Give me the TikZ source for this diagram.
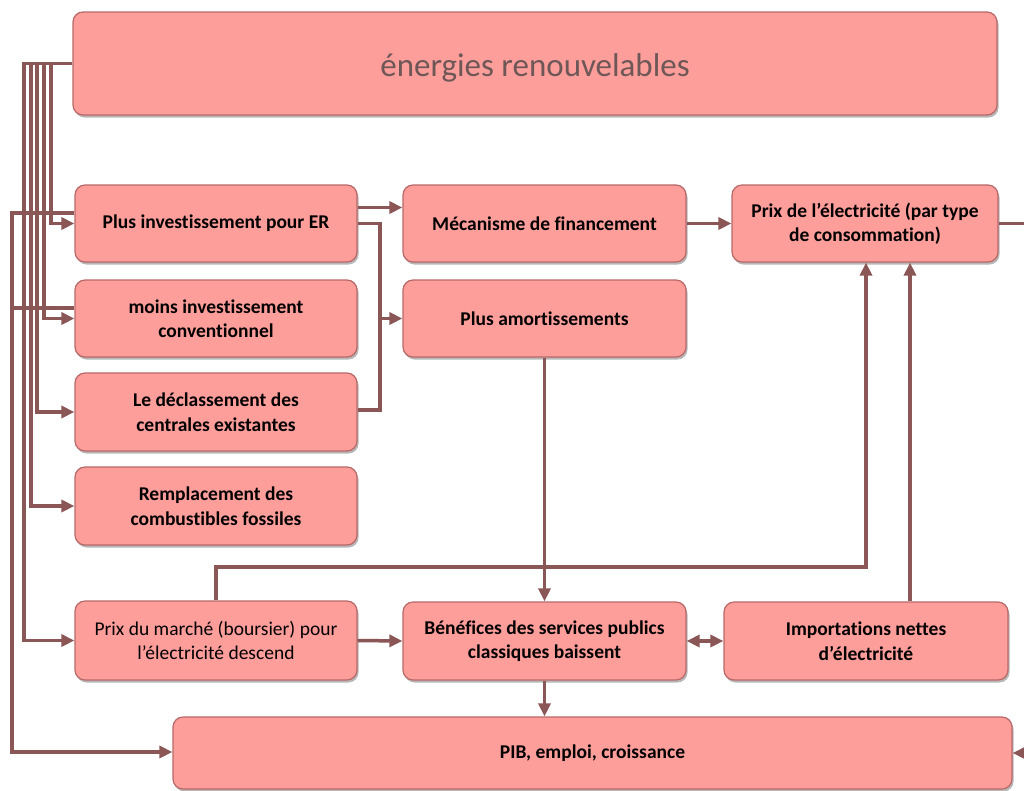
\documentclass[tikz,border=0pt]{standalone}
\usepackage{fontspec}
\setmainfont{Carlito}[Ligatures={NoCommon}]
\usetikzlibrary{arrows.meta,shadows}
\definecolor{boxfill}{HTML}{FE9E9B}
\definecolor{boxedge}{HTML}{B86868}
\definecolor{linec}{HTML}{8B5656}
\definecolor{toptext}{HTML}{6E5757}
\tikzset{
  box/.style={rectangle, rounded corners=10pt, fill=boxfill, draw=boxedge, line width=1.2pt,
    align=center, inner sep=0pt, font=\bfseries\fontsize{19.5}{24.5}\selectfont,
    drop shadow={shadow xshift=1.5pt, shadow yshift=-2.5pt, opacity=0.4, fill=black!70}},
  conn/.style={draw=linec, line width=3.5pt},
  arr/.style={conn, -{Triangle[length=13pt,width=12pt]}},
  darr/.style={conn, {Triangle[length=13pt,width=12pt]}-{Triangle[length=13pt,width=12pt]}},
}
\begin{document}
\begin{tikzpicture}[x=1pt,y=-1pt]
\useasboundingbox[fill=white] (0,0) rectangle (1024,790);
% nodes
\node[box, minimum width=924pt, minimum height=103pt, font=\fontsize{33}{38}\selectfont, text=toptext] (top) at (535,63.5) {\raisebox{-12.5pt}[0pt][0pt]{énergies renouvelables}};
\node[box, minimum width=282pt, minimum height=77pt] (plusinv) at (216,223.5) {Plus investissement pour ER};
\node[box, minimum width=282pt, minimum height=77pt] (moins) at (216,318.5) {moins investissement\\conventionnel};
\node[box, minimum width=282pt, minimum height=78pt] (decl) at (216,412) {Le déclassement des\\centrales existantes};
\node[box, minimum width=282pt, minimum height=78pt] (rempl) at (216,506) {Remplacement des\\combustibles fossiles};
\node[box, minimum width=282pt, minimum height=79pt, font=\fontsize{19.5}{24.5}\selectfont] (marche) at (216,640.5) {Prix du marché (boursier) pour\\l'électricité descend};
\node[box, minimum width=283pt, minimum height=77pt] (meca) at (544.5,223.5) {Mécanisme de financement};
\node[box, minimum width=283pt, minimum height=77pt] (amort) at (544.5,318.5) {Plus amortissements};
\node[box, minimum width=266pt, minimum height=77pt] (prix) at (865,223.5) {Prix de l'électricité (par type\\de consommation)};
\node[box, minimum width=283pt, minimum height=78pt] (benef) at (544.5,641) {Bénéfices des services publics\\classiques baissent};
\node[box, minimum width=284pt, minimum height=78pt] (import) at (866,641) {Importations nettes\\d'électricité};
\node[box, minimum width=839pt, minimum height=72pt] (pib) at (592.5,753) {PIB, emploi, croissance};
% helper coordinates
\coordinate (b1) at (51,0);
\coordinate (b2) at (44,0);
\coordinate (b3) at (37,0);
\coordinate (b4) at (31,0);
\coordinate (b5) at (24,0);
\coordinate (L) at (12,752);
\coordinate (j1) at (380,318.5);
\coordinate (k) at (866,567);
\coordinate (m) at (910,0);
% bundle from top box
\draw[arr] (top.west) -| (b1 |- plusinv.west) -- (plusinv.west);
\draw[arr] (top.west) -| (b2 |- moins.west) -- (moins.west);
\draw[arr] (top.west) -| (b3 |- decl.west) -- (decl.west);
\draw[arr] (top.west) -| (b4 |- rempl.west) -- (rempl.west);
\draw[arr] (top.west) -| (b5 |- marche.west) -- (marche.west);
% to PIB on the far left
\draw[arr] ([yshift=10.5pt]plusinv.west) -| (L) -- (L -| pib.west);
\draw[conn] ([yshift=10.5pt]moins.west) -| (L);
% middle connections
\draw[arr] ([yshift=16pt]plusinv.east) -- ([yshift=16pt]meca.west);
\draw[arr] (plusinv.east) -| (j1) -- (amort.west);
\draw[conn] ([yshift=2pt]decl.east) -| (j1);
\draw[arr] (meca.east) -- (prix.west);
\draw[arr] (prix.east) -- ++(40,0) |- (pib.east);
\draw[arr] (amort.south) -- (benef.north);
\draw[arr] (marche.east) -- (benef.west);
\draw[arr] (marche.north) |- (k) -- (k |- prix.south);
\draw[arr] (m |- import.north) -- (m |- prix.south);
\draw[darr] (benef.east) -- (import.west);
\draw[arr] (benef.south) -- (benef.south |- pib.north);
\end{tikzpicture}
\end{document}
